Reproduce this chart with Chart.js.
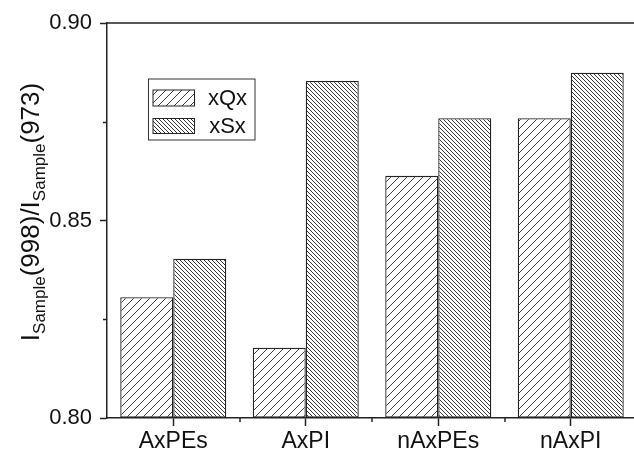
<!DOCTYPE html>
<html>
<head>
<meta charset="utf-8">
<script src="https://cdn.jsdelivr.net/npm/chart.js@4"></script>
<style>
  body { margin: 0; background: #fff; }
  #wrap { width: 634px; height: 452px; overflow: hidden; }
</style>
</head>
<body>
<div id="wrap"><canvas id="myChart" width="641" height="452"></canvas></div>
<script>
// data
const categories = ["AxPEs", "AxPI", "nAxPEs", "nAxPI"];
const seriesNames = ["xQx", "xSx"];
const xQxValues = [0.8306, 0.8178, 0.8613, 0.8759];
const xSxValues = [0.8403, 0.8853, 0.8759, 0.8874];
const yTicks = [0.8, 0.85, 0.9];
const yMinorTicks = [0.825, 0.875];

// hatch patterns, drawn pixel by pixel so they stay crisp
function hatch(size, dir, color) {
  const c = document.createElement("canvas");
  c.width = size;
  c.height = size;
  const g = c.getContext("2d");
  g.fillStyle = "#fff";
  g.fillRect(0, 0, size, size);
  g.fillStyle = color;
  for (let i = 0; i < size; i++) {
    const x = dir === "/" ? size - 1 - i : i;
    g.fillRect(x, i, 1, 1);
  }
  return g.createPattern(c, "repeat");
}
const forward = hatch(8, "/", "#3a3a3a");
const back = hatch(4, "\\", "#333");

const data = {
  labels: categories,
  datasets: [
    {
      label: seriesNames[0],
      data: xQxValues,
      backgroundColor: forward,
      borderColor: "#222",
      borderWidth: 1.3,
      borderSkipped: false,
      base: 0.8,
    },
    {
      label: seriesNames[1],
      data: xSxValues,
      backgroundColor: back,
      borderColor: "#222",
      borderWidth: 1.3,
      borderSkipped: false,
      base: 0.8,
    },
  ],
};

// frame top line, minor ticks, y title and the legend
const extras = {
  id: "extras",
  afterDraw(chart) {
    const { ctx, chartArea: { top, left, right, bottom }, scales: { x, y } } = chart;
    ctx.save();
    ctx.strokeStyle = "#222";
    ctx.lineWidth = 1.5;
    ctx.beginPath();
    ctx.moveTo(left, top);
    ctx.lineTo(right, top);
    // minor ticks
    yMinorTicks.forEach((v) => {
      const py = Math.round(y.getPixelForValue(v)) + 0.5;
      ctx.moveTo(left - 4, py);
      ctx.lineTo(left, py);
    });
    for (let i = 0; i < categories.length - 1; i++) {
      const px = Math.round((x.getPixelForValue(i) + x.getPixelForValue(i + 1)) / 2);
      ctx.moveTo(px, bottom);
      ctx.lineTo(px, bottom + 4);
    }
    ctx.stroke();

    // y title with subscripts
    const parts = [
      ["I", false], ["Sample", true], ["(998)/I", false], ["Sample", true], ["(973)", false],
    ];
    const mainFont = "26px 'Liberation Sans', Arial, sans-serif";
    const subFont = "17px 'Liberation Sans', Arial, sans-serif";
    let total = 0;
    parts.forEach((p) => {
      ctx.font = p[1] ? subFont : mainFont;
      total += ctx.measureText(p[0]).width;
    });
    ctx.translate(39, 212 + total / 2);
    ctx.rotate(-Math.PI / 2);
    ctx.fillStyle = "#111";
    ctx.textBaseline = "alphabetic";
    ctx.textAlign = "left";
    let cx = 0;
    parts.forEach((p) => {
      ctx.font = p[1] ? subFont : mainFont;
      ctx.fillText(p[0], cx, p[1] ? 6 : 0);
      cx += ctx.measureText(p[0]).width;
    });
    ctx.restore();

    // legend
    ctx.save();
    const lx = left + 41.5, ly = top + 56;
    ctx.strokeStyle = "#333";
    ctx.lineWidth = 1;
    ctx.strokeRect(lx, ly, 106.5, 61);
    const fills = [forward, back];
    const rows = [[ly + 11, 16], [ly + 39.5, 15]];
    ctx.font = "22px 'Liberation Sans', Arial, sans-serif";
    ctx.textAlign = "center";
    ctx.textBaseline = "middle";
    chart.data.datasets.forEach((ds, i) => {
      ctx.fillStyle = fills[i];
      ctx.fillRect(lx + 4.5, rows[i][0], 41.5, rows[i][1]);
      ctx.strokeStyle = "#222";
      ctx.strokeRect(lx + 4.5, rows[i][0], 41.5, rows[i][1]);
      ctx.fillStyle = "#111";
      ctx.fillText(ds.label, lx + 79, rows[i][0] + rows[i][1] / 2 + 1);
    });
    ctx.restore();
  },
};

// config
const config = {
  type: "bar",
  data: data,
  options: {
    responsive: false,
    animation: false,
    datasets: { bar: { categoryPercentage: 0.8, barPercentage: 1.0 } },
    layout: { padding: { top: 23, right: 4, left: 0, bottom: 0 } },
    scales: {
      x: {
        afterFit: (s) => { s.height = 34; },
        grid: { offset: false, drawOnChartArea: false, tickLength: 8, color: "#222", tickWidth: 1.5 },
        border: { color: "#222", width: 1.5 },
        ticks: {
          padding: 2,
          color: "#111",
          font: { family: "'Liberation Sans', Arial", size: 23 },
        },
      },
      y: {
        min: 0.8,
        max: 0.9,
        afterFit: (s) => { s.width = 107; },
        afterBuildTicks: (s) => { s.ticks = yTicks.map((v) => ({ value: v })); },
        grid: { drawOnChartArea: false, tickLength: 7, color: "#222", tickWidth: 1.5 },
        border: { color: "#222", width: 1.5 },
        ticks: {
          padding: 8,
          color: "#111",
          font: { family: "'Liberation Sans', Arial", size: 22 },
          callback: (v) => Number(v).toFixed(2),
        },
      },
    },
    plugins: {
      legend: { display: false },
      tooltip: { enabled: false },
    },
  },
  plugins: [extras],
};

const myChart = new Chart(document.getElementById("myChart"), config);
</script>
</body>
</html>
